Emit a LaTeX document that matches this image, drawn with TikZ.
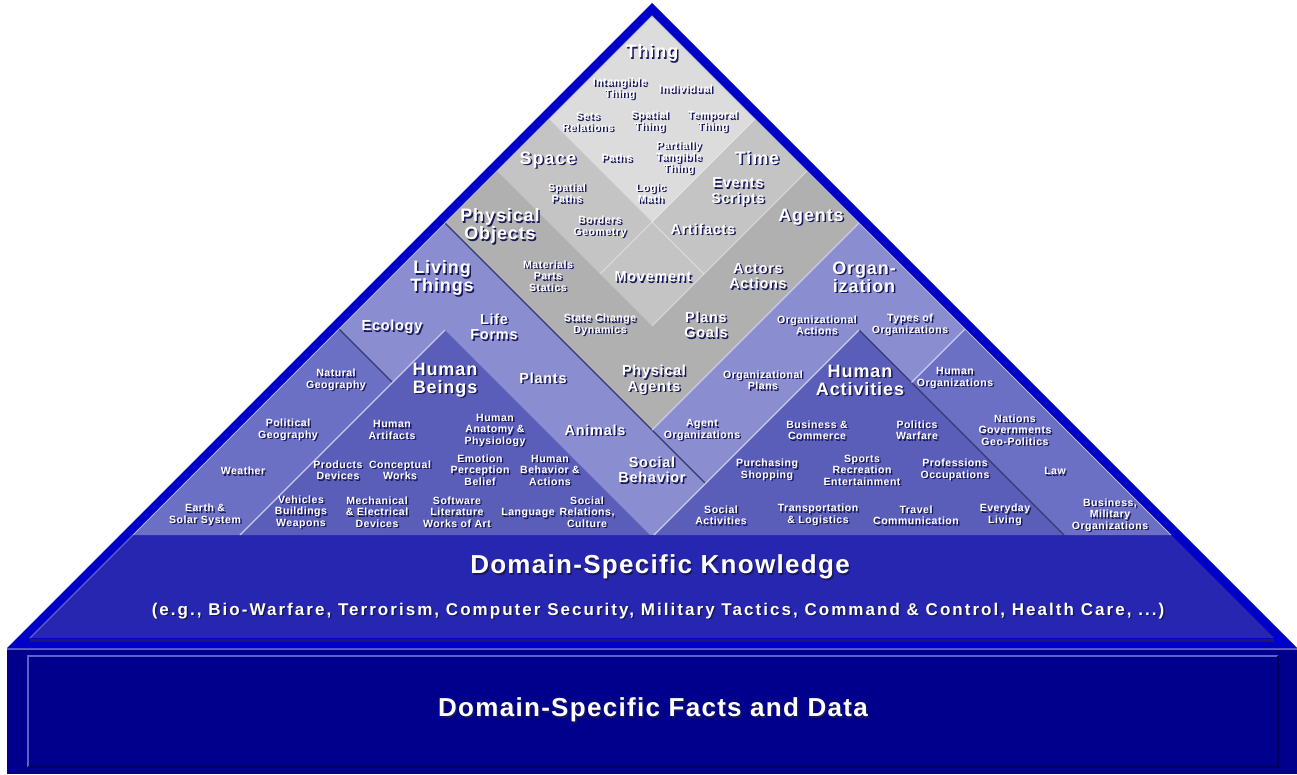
\documentclass[tikz,border=0pt]{standalone}
\usepackage{fontspec}
\newfontfamily\tagfont{Liberation Sans}[LetterSpace=5]
\newfontfamily\notefont{Liberation Sans}[LetterSpace=12]
\usetikzlibrary{positioning}
\definecolor{cyFrame}{RGB}{0, 0, 200}
\definecolor{cyBand}{RGB}{38, 38, 176}
\definecolor{cyBandDark}{RGB}{26, 26, 106}
\definecolor{cyNavy}{RGB}{0, 0, 140}
\definecolor{cyDeep}{RGB}{0, 0, 80}
\definecolor{cyRim}{RGB}{96, 96, 200}
\definecolor{cyShade}{RGB}{24, 24, 92}
\definecolor{cyGreyA}{RGB}{220, 220, 220}
\definecolor{cyGreyB}{RGB}{196, 196, 196}
\definecolor{cyGreyC}{RGB}{176, 176, 176}
\definecolor{cyLav}{RGB}{138, 142, 208}
\definecolor{cyGeo}{RGB}{108, 112, 196}
\definecolor{cyHuman}{RGB}{90, 94, 184}
\definecolor{cyDarkEdge}{RGB}{56, 56, 112}
\definecolor{cyLightEdge}{RGB}{200, 204, 240}
\tikzset{
    tag/.style={
        text=white,
        align=center,
        inner sep=0pt
    },
    tagBig/.style={
        tag,
        font=\tagfont\bfseries\fontsize{18}{18}\selectfont
    },
    tagMid/.style={
        tag,
        font=\tagfont\bfseries\fontsize{14.5}{15.5}\selectfont
    },
    tagSmall/.style={
        tag,
        font=\tagfont\bfseries\fontsize{10.5}{11.5}\selectfont
    },
    tagBase/.style={
        tag,
        font=\tagfont\bfseries\fontsize{26}{26}\selectfont
    },
    tagNote/.style={
        tag,
        font=\notefont\bfseries\fontsize{17}{17}\selectfont
    },
    edgeDark/.style={
        draw=cyDarkEdge,
        line width=1.2pt
    },
    edgeLight/.style={
        draw=cyLightEdge,
        line width=1.2pt
    },
    greyLine/.style={
        draw=white,
        opacity=0.45,
        line width=1pt
    }
}
% white label with a dark drop shadow
\newcommand{\ontolabel}[4]{%
  \node[#3, text=cyShade, xshift=1.5pt, yshift=-1.5pt] at (#2) {#4};
  \node[#3] (#1) at (#2) {#4};
}

\begin{document}
\begin{tikzpicture}[x=1pt, y=-1pt]
  \useasboundingbox (0,0) rectangle (1297,774);

  % base block
  \fill[cyNavy] (7,648) rectangle (1297,774);
  \draw[cyRim, line width=2pt] (7,649) -- (1297,649);
  \draw[cyRim, line width=1.5pt] (28,767) -- (28,656) -- (1278,656);
  \draw[cyDeep, line width=1.5pt] (28,767) -- (1278,767) -- (1278,656);

  % pyramid frame and knowledge band
  \fill[cyFrame] (652,3) -- (1297,648) -- (7,648) -- cycle;
  \fill[cyBand] (133,535) -- (1171,535) -- (1274,638) -- (30,638) -- cycle;
  \draw[cyBandDark, line width=3pt] (30,640) -- (1274,640);
  \draw[cyRim, line width=1.2pt] (133,535) -- (30,638);

  % upper ontology
  \begin{scope}
    \clip (652,16) -- (1171,535) -- (133,535) -- cycle;
    \fill[cyLav] (0,0) rectangle (1297,535);
    \fill[cyGeo] (392.5,382.5) -- (200,190) -- (0,190) -- (0,700) -- (75,700) -- cycle;
    \fill[cyGeo] (911.5,382.5) -- (1104,190) -- (1304,190) -- (1304,700) -- (1229,700) -- cycle;
    \fill[cyHuman] (445,330) -- (75,700) -- (815,700) -- cycle;
    \fill[cyHuman] (859,330) -- (489,700) -- (1229,700) -- cycle;
    \fill[cyGreyC] (652,16) -- (445,223) -- (652,430) -- (859,223) -- cycle;
    \fill[cyGreyB] (652,16) -- (497,171) -- (652,326) -- (807,171) -- cycle;
    \fill[cyGreyA] (652,16) -- (549,119) -- (652,222) -- (755,119) -- cycle;
    \draw[edgeDark] (445,223) -- (652,430) -- (705,483);
    \draw[edgeDark] (339,329) -- (392.5,382.5);
    \draw[edgeDark] (859,330) -- (1064,535);
    \draw[edgeLight] (859,223) -- (652,430);
    \draw[edgeLight] (445,330) -- (240,535);
    \draw[edgeLight] (859,330) -- (654,535);
    \draw[edgeLight] (965,329) -- (911.5,382.5);
    \draw[greyLine] (755,119) -- (652,222);
    \draw[greyLine] (807,171) -- (652,326);
    \draw[greyLine] (600,274) -- (652,222) -- (704,274);
  \end{scope}
  \draw[cyLightEdge!70!gray, line width=1pt] (133,535) -- (652,16) -- (1171,535);

  % grey core
  \ontolabel{thing}{652,53}{tagBig}{Thing}
  \ontolabel{intang}{620,89}{tagSmall}{Intangible\\Thing}
  \ontolabel{indiv}{686,89}{tagSmall}{Individual}
  \ontolabel{sets}{588,122}{tagSmall}{Sets\\Relations}
  \ontolabel{spthing}{650,122}{tagSmall}{Spatial\\Thing}
  \ontolabel{tmthing}{713,122}{tagSmall}{Temporal\\Thing}
  \ontolabel{space}{548,160}{tagBig}{Space}
  \ontolabel{paths}{617,158}{tagSmall}{Paths}
  \ontolabel{partial}{679,158}{tagSmall}{Partially\\Tangible\\Thing}
  \ontolabel{time}{757,158}{tagBig}{Time}
  \ontolabel{sppaths}{567,193}{tagSmall}{Spatial\\Paths}
  \ontolabel{logic}{651,193}{tagSmall}{Logic\\Math}
  \ontolabel{events}{738,192}{tagMid}{Events\\Scripts}
  \ontolabel{physobj}{500,226}{tagBig}{Physical\\Objects}
  \ontolabel{borders}{600,227}{tagSmall}{Borders\\Geometry}
  \ontolabel{artifacts}{703,229}{tagMid}{Artifacts}
  \ontolabel{agents}{811,217}{tagBig}{Agents}
  \ontolabel{materials}{548,276}{tagSmall}{Materials\\Parts\\Statics}
  \ontolabel{movement}{653,277}{tagMid}{Movement}
  \ontolabel{actors}{758,276}{tagMid}{Actors\\Actions}
  \ontolabel{change}{600,325}{tagSmall}{State Change\\Dynamics}
  \ontolabel{plans}{706,325}{tagMid}{Plans\\Goals}
  \ontolabel{physag}{654,380}{tagMid}{Physical\\Agents}

  % living things side
  \ontolabel{living}{442,278}{tagBig}{Living\\Things}
  \ontolabel{ecology}{392,327}{tagMid}{Ecology}
  \ontolabel{life}{494,327}{tagMid}{Life\\Forms}
  \ontolabel{natgeo}{336,380}{tagSmall}{Natural\\Geography}
  \ontolabel{humans}{445,380}{tagBig}{Human\\Beings}
  \ontolabel{plants}{543,378}{tagMid}{Plants}
  \ontolabel{polgeo}{288,430}{tagSmall}{Political\\Geography}
  \ontolabel{humart}{392,430}{tagSmall}{Human\\Artifacts}
  \ontolabel{anatomy}{495,430}{tagSmall}{Human\\Anatomy \&\\Physiology}
  \ontolabel{animals}{595,430}{tagMid}{Animals}
  \ontolabel{weather}{243,471}{tagSmall}{Weather}
  \ontolabel{products}{338,470}{tagSmall}{Products\\Devices}
  \ontolabel{works}{400,470}{tagSmall}{Conceptual\\Works}
  \ontolabel{emotion}{480,470}{tagSmall}{Emotion\\Perception\\Belief}
  \ontolabel{behavior}{550,470}{tagSmall}{Human\\Behavior \&\\Actions}
  \ontolabel{social}{652,470}{tagMid}{Social\\Behavior}
  \ontolabel{earth}{205,515}{tagSmall}{Earth \&\\Solar System}
  \ontolabel{vehicles}{301,512}{tagSmall}{Vehicles\\Buildings\\Weapons}
  \ontolabel{mech}{377,512}{tagSmall}{Mechanical\\\& Electrical\\Devices}
  \ontolabel{software}{457,512}{tagSmall}{Software\\Literature\\Works of Art}
  \ontolabel{language}{528,513}{tagSmall}{Language}
  \ontolabel{culture}{587,512}{tagSmall}{Social\\Relations,\\Culture}

  % organization side
  \ontolabel{org}{864,277}{tagBig}{Organ-\\ization}
  \ontolabel{orgact}{817,325}{tagSmall}{Organizational\\Actions}
  \ontolabel{orgtypes}{910,325}{tagSmall}{Types of\\Organizations}
  \ontolabel{orgplans}{763,380}{tagSmall}{Organizational\\Plans}
  \ontolabel{activities}{860,380}{tagBig}{Human\\Activities}
  \ontolabel{humorg}{955,378}{tagSmall}{Human\\Organizations}
  \ontolabel{agentorg}{702,430}{tagSmall}{Agent\\Organizations}
  \ontolabel{business}{817,430}{tagSmall}{Business \&\\Commerce}
  \ontolabel{politics}{917,430}{tagSmall}{Politics\\Warfare}
  \ontolabel{nations}{1015,430}{tagSmall}{Nations\\Governments\\Geo-Politics}
  \ontolabel{shopping}{767,470}{tagSmall}{Purchasing\\Shopping}
  \ontolabel{sports}{862,470}{tagSmall}{Sports\\Recreation\\Entertainment}
  \ontolabel{jobs}{955,470}{tagSmall}{Professions\\Occupations}
  \ontolabel{law}{1055,471}{tagSmall}{Law}
  \ontolabel{socact}{721,515}{tagSmall}{Social\\Activities}
  \ontolabel{transport}{818,515}{tagSmall}{Transportation\\\& Logistics}
  \ontolabel{travel}{916,515}{tagSmall}{Travel\\Communication}
  \ontolabel{everyday}{1005,515}{tagSmall}{Everyday\\Living}
  \ontolabel{military}{1110,515}{tagSmall}{Business,\\Military\\Organizations}

  % domain layers
  \ontolabel{knowledge}{660,567}{tagBase}{Domain-Specific Knowledge}
  \ontolabel{examples}{658,611}{tagNote}{(e.g., Bio-Warfare, Terrorism, Computer Security, Military Tactics, Command \& Control, Health Care, ...)}
  \ontolabel{facts}{653,710}{tagBase}{Domain-Specific Facts and Data}
\end{tikzpicture}
\end{document}
